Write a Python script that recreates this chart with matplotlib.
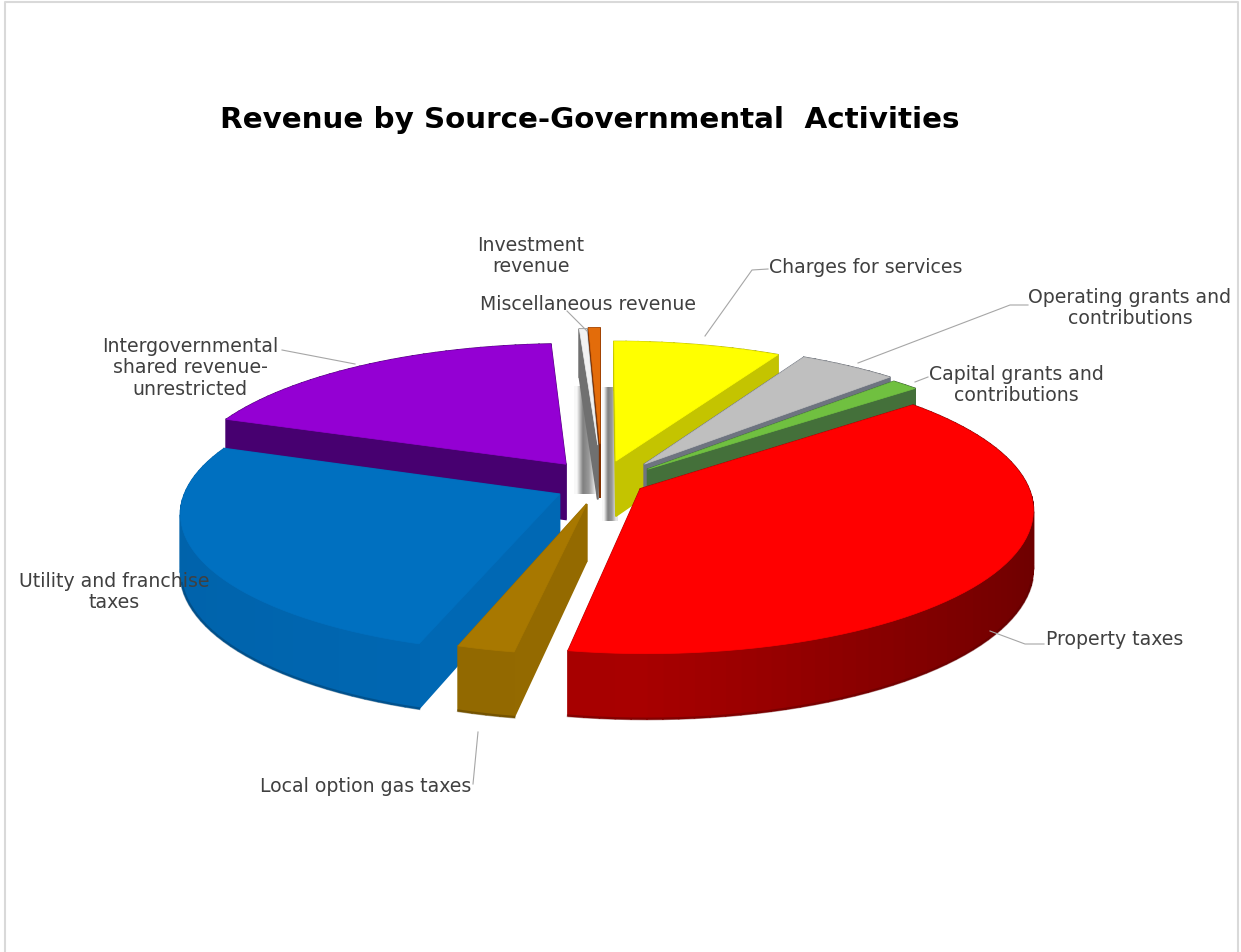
import numpy as np
import matplotlib
matplotlib.use("Agg")
import matplotlib.pyplot as plt
from matplotlib.colors import to_rgb
from matplotlib.patches import Polygon

# revenue shares in percent, clockwise from twelve o'clock
sources = ["Charges for services", "Operating grants and contributions",
           "Capital grants and contributions", "Property taxes",
           "Local option gas taxes", "Utility and franchise taxes",
           "Intergovernmental shared revenue-unrestricted",
           "Investment revenue", "Miscellaneous revenue"]
shares = [8.0, 4.7, 1.3, 38.8, 2.3, 25.5, 18.5, 0.35, 0.55]

top_colors = ["#FFFF00", "#BFBFBF", "#70C040", "#FF0000", "#A87800",
              "#0070C0", "#9400D3", "#F2F2F2", "#E36C0A"]
side_colors = ["#C4C400", "#6E7480", "#44703A", "#A80000", "#946A00",
               "#0068B4", "#470070", "#707070", "#803000"]

# how far each slice is pulled out, in disc units
explode_x = [0.042, 0.117, 0.125, 0.104, -0.034, -0.104, -0.09, -0.006, 0.0]
explode_y = [0.13, 0.107, 0.07, -0.07, -0.175, -0.107, 0.107, 0.25, 0.26]
radius = [1, 1, 1, 1, 0.9, 0.96, 1, 1, 1]

CX, CY = 600, 480
A, B = 385, 140
PERSP = 0.133
DEPTH = 56


def project(x, y, z=0):
    s = 1 / (1 + PERSP * y)
    return CX + A * x * s, CY - B * y * s + DEPTH * z * s


def shade(color, f):
    return tuple(min(1, c * f) for c in to_rgb(color))


def draw_slice(ax, i, t0, t1):
    ex, ey, r = explode_x[i], explode_y[i], radius[i]
    ts = np.radians(np.linspace(t0, t1, max(int((t1 - t0) / 2), 1) + 1))
    xs = ex + r * np.sin(ts)
    ys = ey + r * np.cos(ts)

    # side walls, furthest first, then the top face over them
    walls = []
    for xa, ya in [(xs[0], ys[0]), (xs[-1], ys[-1])]:
        walls.append(((ex, ey), (xa, ya), 1.0))
    for j in range(len(ts) - 1):
        f = 1 - 0.35 * max(0, np.sin(ts[j])) - 0.05 * max(0, -np.sin(ts[j]))
        walls.append(((xs[j], ys[j]), (xs[j + 1], ys[j + 1]), f))
    walls.sort(key=lambda w: -(w[0][1] + w[1][1]))
    for p, q, f in walls:
        pts = [project(*p), project(*q), project(*q, 1), project(*p, 1)]
        col = shade(side_colors[i], f)
        ax.add_patch(Polygon(pts, closed=True, fc=col, ec=col, lw=1.2))

    # darker rim where the front of the wall meets the ground
    front = np.cos(ts) < -0.2
    if front.sum() > 1:
        bottom = np.array([project(x, y, 1) for x, y in zip(xs[front], ys[front])])
        ax.plot(bottom[:, 0], bottom[:, 1], color=shade(side_colors[i], 0.55), lw=2, alpha=0.45)

    top = [project(ex, ey)] + [project(x, y) for x, y in zip(xs, ys)]
    ax.add_patch(Polygon(top, closed=True, fc=top_colors[i], ec=top_colors[i], lw=0.5))


fig = plt.figure(figsize=(12.41, 9.53), dpi=100)
ax = fig.add_axes([0, 0, 1, 1])
ax.axis("off")

# thin frame of the chart area
ax.plot([5, 5, 1238, 1238], [953, 3, 3, 953], color="#D9D9D9", lw=1.5)

# grey shading behind the two thin slices and beside the yellow one
ramp = [[0.97, 0.5, 0.6, 0.9]]
ax.imshow(ramp, cmap="gray", vmin=0, vmax=1, interpolation="bilinear", aspect="auto",
          extent=(574, 598, 495, 388))
ax.imshow(ramp, cmap="gray", vmin=0, vmax=1, interpolation="bilinear", aspect="auto",
          extent=(602, 618, 522, 388))
ax.set_xlim(0, 1241)
ax.set_ylim(953, 0)

edges = np.cumsum([0] + shares) / sum(shares) * 360
slices = [(edges[i], edges[i + 1]) for i in range(len(shares))]
mids = [explode_y[i] + 0.6 * radius[i] * np.cos(np.radians(sum(slices[i]) / 2)) for i in range(len(shares))]
for i in np.argsort(mids)[::-1]:
    draw_slice(ax, i, *slices[i])

ax.text(590, 120, "Revenue by Source-Governmental  Activities", fontsize=21.2,
        fontweight="bold", color="black", ha="center", va="center")

labels = [
    (866, 268, "Charges for services"),
    (1130, 308, "Operating grants and\ncontributions"),
    (1016, 385, "Capital grants and\ncontributions"),
    (1115, 640, "Property taxes"),
    (366, 787, "Local option gas taxes"),
    (114, 592, "Utility and franchise\ntaxes"),
    (190, 368, "Intergovernmental\nshared revenue-\nunrestricted"),
    (531, 256, "Investment\nrevenue"),
    (588, 305, "Miscellaneous revenue"),
]
for x, y, s in labels:
    ax.text(x, y, s, fontsize=13.6, color="#404040", ha="center", va="center",
            linespacing=1.15)

leaders = [
    ([768, 752, 705], [270, 271, 337]),
    ([1028, 1010, 858], [306, 306, 364]),
    ([928, 915], [378, 383]),
    ([1044, 1025, 990], [645, 645, 632]),
    ([473, 478], [785, 733]),
    ([282, 355], [351, 365]),
    ([567, 587], [312, 332]),
]
for lx, ly in leaders:
    ax.plot(lx, ly, color="#A6A6A6", lw=0.8)

fig.savefig("out.png", dpi=100, facecolor="white")
